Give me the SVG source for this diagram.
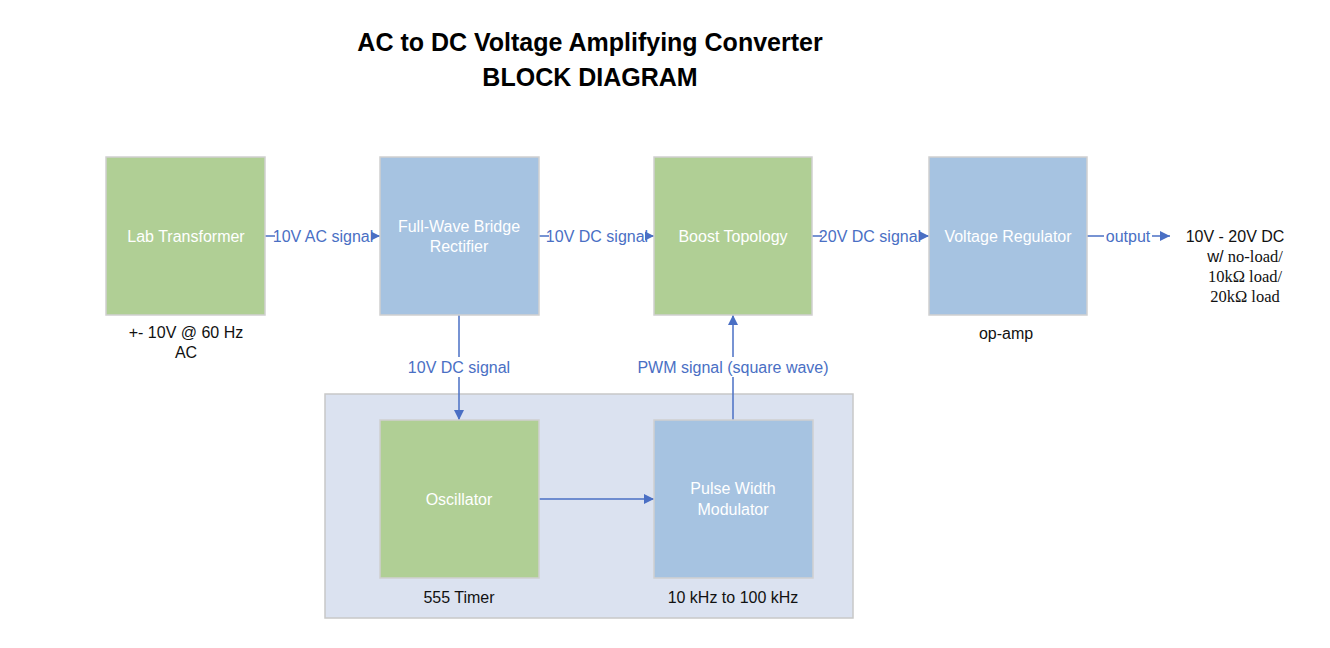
<svg xmlns="http://www.w3.org/2000/svg" width="1330" height="648" viewBox="0 0 1330 648">
<defs>
<marker id="ah" viewBox="0 0 10 10" refX="10" refY="5" markerWidth="10" markerHeight="10" markerUnits="userSpaceOnUse" orient="auto">
<path d="M0,0 L10,5 L0,10 Z" fill="#4a6fc4"/>
</marker>
<style>
text{font-family:"Liberation Sans",Arial,sans-serif}
.g{fill:#b0cf95;stroke:#d0d0d0;stroke-width:1.5}
.b{fill:#a6c3e1;stroke:#d0d0d0;stroke-width:1.5}
.nl{fill:#ffffff;font-size:16px;text-anchor:middle;dominant-baseline:central}
.cl{fill:#4a6fc4;font-size:16px;text-anchor:middle;dominant-baseline:central}
.sl{fill:#111;font-size:16px;text-anchor:middle;dominant-baseline:central}
.ser{font-family:"Liberation Serif","Times New Roman",serif;fill:#111;font-size:16.5px;text-anchor:middle;dominant-baseline:central}
.sans{font-family:"Liberation Sans",Arial,sans-serif}
.t{fill:#000;font-size:25px;font-weight:bold;text-anchor:middle}
.ln{stroke:#4a6fc4;stroke-width:1.5;fill:none}
</style>
</defs>
<rect width="1330" height="648" fill="#ffffff"/>
<text class="t" x="590" y="51">AC to DC Voltage Amplifying Converter</text>
<text class="t" x="590" y="86">BLOCK DIAGRAM</text>
<g id="timer-group">
<rect x="325" y="394" width="528" height="224" fill="#dbe2f0" stroke="#c8c8c8" stroke-width="1.5"/>
</g>
<g id="connectors">
<line class="ln" x1="265" y1="236" x2="380" y2="236" marker-end="url(#ah)"/>
<line class="ln" x1="539" y1="236" x2="654" y2="236" marker-end="url(#ah)"/>
<line class="ln" x1="812" y1="236" x2="929" y2="236" marker-end="url(#ah)"/>
<line class="ln" x1="1087" y1="236" x2="1170" y2="236" marker-end="url(#ah)"/>
<line class="ln" x1="459" y1="315" x2="459" y2="420" marker-end="url(#ah)"/>
<line class="ln" x1="733" y1="420" x2="733" y2="315" marker-end="url(#ah)"/>
<line class="ln" x1="539" y1="499" x2="654" y2="499" marker-end="url(#ah)"/>
<rect x="275" y="226" width="96" height="20" fill="#ffffff"/>
<text class="cl" x="323" y="236">10V AC signal</text>
<rect x="549" y="226" width="96" height="20" fill="#ffffff"/>
<text class="cl" x="597" y="236">10V DC signal</text>
<rect x="822" y="226" width="97" height="20" fill="#ffffff"/>
<text class="cl" x="870" y="236">20V DC signal</text>
<rect x="1104" y="226" width="48" height="20" fill="#ffffff"/>
<text class="cl" x="1128" y="236">output</text>
<rect x="410" y="357" width="98" height="20" fill="#ffffff"/>
<text class="cl" x="459" y="367">10V DC signal</text>
<rect x="638" y="357" width="190" height="20" fill="#ffffff"/>
<text class="cl" x="733" y="367">PWM signal (square wave)</text>
</g>
<g id="lab-transformer">
<rect class="g" x="106" y="157" width="159" height="158"/>
<text class="nl" x="186" y="236">Lab Transformer</text>
<text class="sl" x="186" y="332">+- 10V @ 60 Hz</text>
<text class="sl" x="186" y="352">AC</text>
</g>
<g id="rectifier">
<rect class="b" x="380" y="157" width="159" height="158"/>
<text class="nl" x="459" y="226">Full-Wave Bridge</text>
<text class="nl" x="459" y="246">Rectifier</text>
</g>
<g id="boost">
<rect class="g" x="654" y="157" width="158" height="158"/>
<text class="nl" x="733" y="236">Boost Topology</text>
</g>
<g id="regulator">
<rect class="b" x="929" y="157" width="158" height="158"/>
<text class="nl" x="1008" y="236">Voltage Regulator</text>
<text class="sl" x="1006" y="333">op-amp</text>
</g>
<g id="output-label">
<text class="sl" x="1235" y="236">10V - 20V DC</text>
<text class="ser" x="1245" y="256"><tspan class="sans">w/</tspan> no-load/</text>
<text class="ser" x="1245" y="276">10kΩ load/</text>
<text class="ser" x="1245" y="296">20kΩ load</text>
</g>
<g id="oscillator">
<rect class="g" x="380" y="420" width="159" height="158"/>
<text class="nl" x="459" y="499">Oscillator</text>
<text class="sl" x="459" y="597">555 Timer</text>
</g>
<g id="pwm">
<rect class="b" x="654" y="420" width="159" height="158"/>
<text class="nl" x="733" y="488">Pulse Width</text>
<text class="nl" x="733" y="509">Modulator</text>
<text class="sl" x="733" y="597">10 kHz to 100 kHz</text>
</g>
</svg>
